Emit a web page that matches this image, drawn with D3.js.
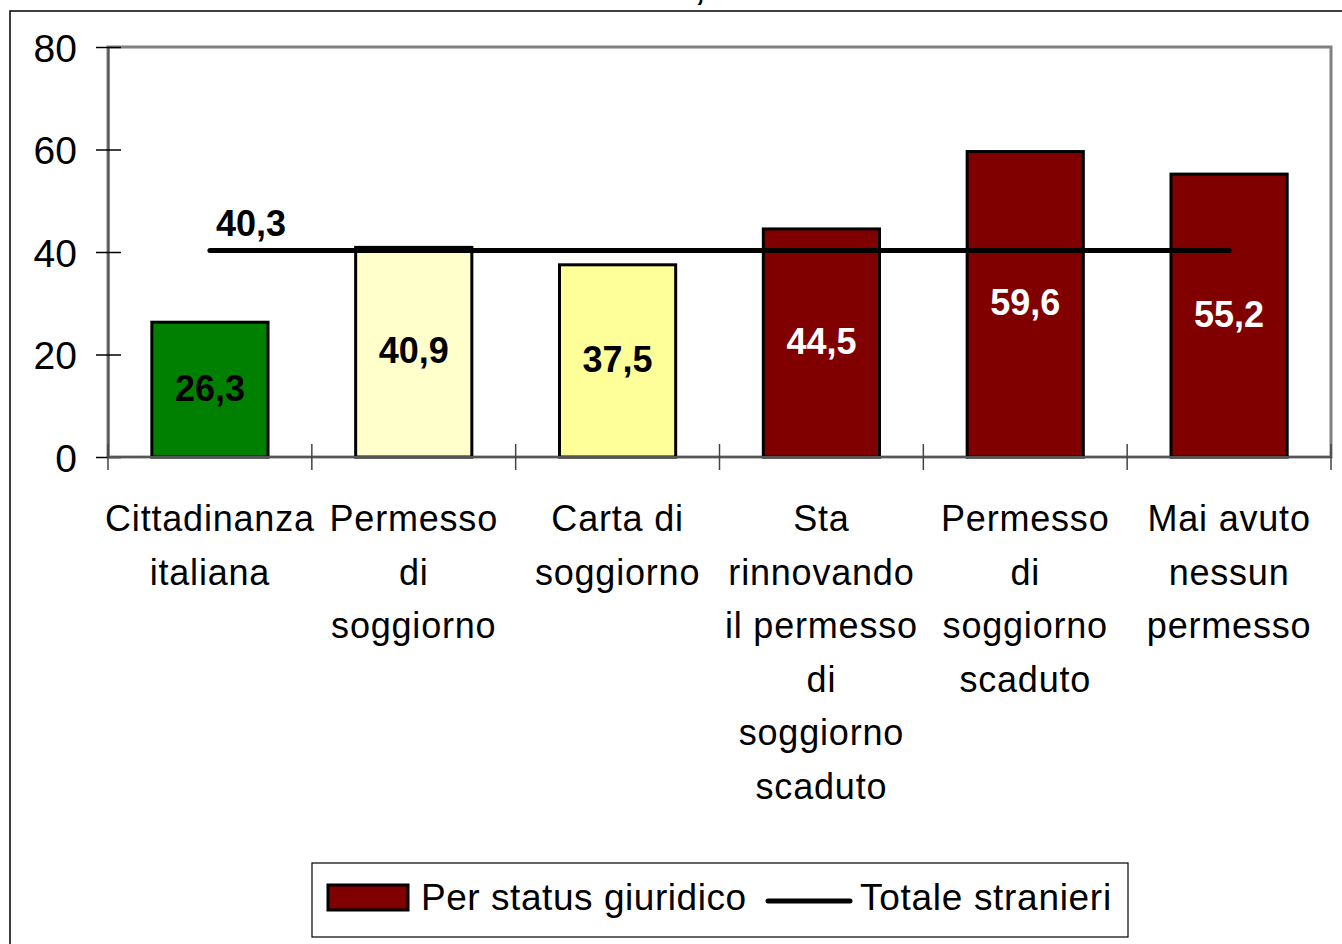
<!DOCTYPE html>
<html><head><meta charset="utf-8">
<script src="https://cdn.jsdelivr.net/npm/d3@7/dist/d3.min.js"></script>
<style>body{margin:0;background:#fff}svg{display:block;font-family:"Liberation Sans",Arial,sans-serif}</style>
</head><body>
<svg id="c" width="1342" height="944"></svg>
<script>
const categories = ["Cittadinanza italiana","Permesso di soggiorno","Carta di soggiorno","Sta rinnovando il permesso di soggiorno scaduto","Permesso di soggiorno scaduto","Mai avuto nessun permesso"];
const categoryLines = [["Cittadinanza","italiana"],["Permesso","di","soggiorno"],["Carta di","soggiorno"],["Sta","rinnovando","il permesso","di","soggiorno","scaduto"],["Permesso","di","soggiorno","scaduto"],["Mai avuto","nessun","permesso"]];
const values = [26.3, 40.9, 37.5, 44.5, 59.6, 55.2];
const barColors = ["#008000","#FFFFCC","#FFFF99","#800000","#800000","#800000"];
const labelColors = ["#000","#000","#000","#fff","#fff","#fff"];
const totale = 40.3;
const yTicks = [0,20,40,60,80];
const seriesNames = ["Per status giuridico","Totale stranieri"];
const fmt = v => String(v).replace(".", ",");

const svg = d3.select("#c");
// outer chart border
svg.append("rect").attr("x",10).attr("y",11).attr("width",1400).attr("height",1000).attr("fill","none").attr("stroke","#000").attr("stroke-width",1.5);
// cut title comma (title is cropped in the original)
svg.append("text").attr("x",700).attr("y",0).attr("font-size",34).attr("font-weight","bold").attr("text-anchor","middle").text(",");

const L=108,R=1331,T=47,B=457;
const x = d3.scaleBand().domain(categories).range([L,R]).paddingInner(0.43).paddingOuter(0.215);
const y = d3.scaleLinear().domain([0,80]).range([B,T]);

// plot frame
svg.append("rect").attr("x",L).attr("y",T).attr("width",R-L).attr("height",B-T).attr("fill","none").attr("stroke","#808080").attr("stroke-width",3);

// bars
svg.selectAll(".bar").data(values).enter().append("rect")
  .attr("x",(d,i)=>x(categories[i])).attr("y",d=>y(d))
  .attr("width",x.bandwidth()).attr("height",d=>B-y(d))
  .attr("fill",(d,i)=>barColors[i]).attr("stroke","#000").attr("stroke-width",3);

// axes
const yAxis = d3.axisLeft(y).tickValues(yTicks).tickSize(0).tickPadding(31).tickFormat(d=>d);
const ga = svg.append("g").attr("transform",`translate(${L},0)`).call(yAxis);
ga.select(".domain").attr("stroke","#555").attr("stroke-width",2);
ga.selectAll("text").attr("font-size",39).attr("fill","#000").attr("font-family","Liberation Sans, Arial, sans-serif").attr("dy","0.36em");
ga.selectAll(".tick").append("line").attr("x1",-12).attr("x2",13).attr("stroke","#000").attr("stroke-width",1.5);

svg.append("line").attr("x1",L).attr("x2",R).attr("y1",B).attr("y2",B).attr("stroke","#555").attr("stroke-width",2);
const bounds = categories.map(c=>x(c)-x.step()*x.paddingInner()/2).concat([R]);
svg.selectAll(".xt").data(bounds).enter().append("line")
  .attr("x1",d=>d).attr("x2",d=>d).attr("y1",B-13).attr("y2",B+13).attr("stroke","#444").attr("stroke-width",1.5);

// category labels
categoryLines.forEach((lines,i)=>{
  const cx = x(categories[i])+x.bandwidth()/2;
  const t = svg.append("text").attr("text-anchor","middle").attr("font-size",36).attr("letter-spacing","0.8px");
  lines.forEach((ln,j)=>t.append("tspan").attr("x",cx).attr("y",531+j*53.6).text(ln));
});

// value labels
svg.selectAll(".vl").data(values).enter().append("text")
  .attr("x",(d,i)=>x(categories[i])+x.bandwidth()/2)
  .attr("y",d=>(y(d)+B)/2-2).attr("dy","0.36em")
  .attr("text-anchor","middle").attr("font-size",36).attr("font-weight","bold")
  .attr("fill",(d,i)=>labelColors[i]).text(d=>fmt(d));

// total line
const cx0 = x(categories[0])+x.bandwidth()/2, cx1 = x(categories[5])+x.bandwidth()/2;
const lineGen = d3.line().x(d=>d[0]).y(d=>y(d[1]));
svg.append("path").attr("d",lineGen([[cx0,totale],[cx1,totale]])).attr("stroke","#000").attr("stroke-width",5).attr("stroke-linecap","round").attr("fill","none");
svg.append("text").attr("x",cx0+41).attr("y",y(totale)-14).attr("text-anchor","middle").attr("font-size",36).attr("font-weight","bold").text(fmt(totale));

// legend
svg.append("rect").attr("x",312).attr("y",863).attr("width",816).attr("height",74).attr("fill","#fff").attr("stroke","#000").attr("stroke-width",1.2);
svg.append("rect").attr("x",328).attr("y",885).attr("width",80).attr("height",25).attr("fill","#800000").attr("stroke","#000").attr("stroke-width",3);
svg.append("text").attr("x",421).attr("y",910).attr("font-size",37).attr("letter-spacing","0.55px").text(seriesNames[0]);
svg.append("line").attr("x1",768).attr("x2",850).attr("y1",901).attr("y2",901).attr("stroke","#000").attr("stroke-width",5).attr("stroke-linecap","round");
svg.append("text").attr("x",860).attr("y",910).attr("font-size",37).attr("letter-spacing","0.7px").text(seriesNames[1]);
</script>
</body></html>
